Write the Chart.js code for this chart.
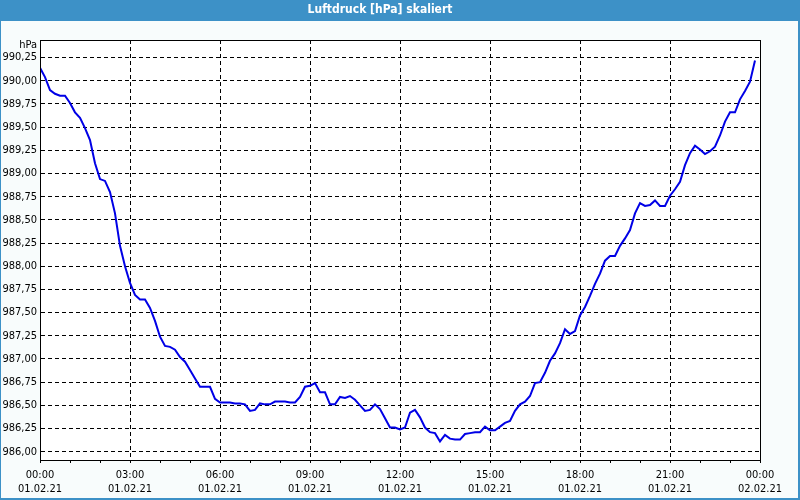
<!DOCTYPE html>
<html>
<head>
<meta charset="utf-8">
<script src="https://cdn.jsdelivr.net/npm/chart.js@4"></script>
<style>
  html, body { margin: 0; padding: 0; background: #f8fcfc; }
  #wrap { width: 800px; height: 500px; position: relative; }
</style>
</head>
<body>
<div id="wrap"><canvas id="c"></canvas></div>
<script>
// ---- data ----
const chartTitle = 'Luftdruck [hPa] skaliert';
const unitLabel = 'hPa';
const startMinutes = 0;       // 01.02.21 00:00
const intervalMinutes = 10;   // one sample every 10 minutes
const pressure = [
  990.14, 990.04, 989.90, 989.86, 989.84, 989.84, 989.76, 989.66, 989.60, 989.49,
  989.36, 989.11, 988.94, 988.92, 988.80, 988.57, 988.22, 988.00, 987.82, 987.69,
  987.64, 987.64, 987.55, 987.41, 987.24, 987.14, 987.13, 987.10, 987.02, 986.97,
  986.88, 986.79, 986.70, 986.70, 986.70, 986.57, 986.53, 986.53, 986.53, 986.52,
  986.52, 986.51, 986.44, 986.45, 986.52, 986.51, 986.51, 986.54, 986.54, 986.54,
  986.53, 986.53, 986.59, 986.70, 986.71, 986.74, 986.64, 986.64, 986.51, 986.51,
  986.59, 986.58, 986.60, 986.56, 986.50, 986.44, 986.45, 986.51, 986.46, 986.36,
  986.26, 986.26, 986.24, 986.26, 986.42, 986.45, 986.37, 986.26, 986.21, 986.20,
  986.11, 986.18, 986.14, 986.13, 986.13, 986.19, 986.20, 986.21, 986.21, 986.27,
  986.23, 986.23, 986.27, 986.31, 986.33, 986.44, 986.51, 986.54, 986.60, 986.74,
  986.75, 986.85, 986.98, 987.06, 987.17, 987.32, 987.27, 987.30, 987.47, 987.56,
  987.68, 987.81, 987.92, 988.06, 988.11, 988.11, 988.22, 988.30, 988.39, 988.57,
  988.68, 988.65, 988.66, 988.71, 988.65, 988.65, 988.76, 988.83, 988.91, 989.09,
  989.22, 989.30, 989.26, 989.21, 989.24, 989.29, 989.41, 989.56, 989.66, 989.66,
  989.80, 989.89, 989.99, 990.22
];
const xTickTimes = ['00:00', '03:00', '06:00', '09:00', '12:00', '15:00', '18:00', '21:00', '00:00'];
const xTickDates = ['01.02.21', '01.02.21', '01.02.21', '01.02.21', '01.02.21', '01.02.21', '01.02.21', '01.02.21', '02.02.21'];
const xMin = 0, xMax = 1440, xMajorStep = 180, xMinorStep = 60;
const yMin = 985.91, yMax = 990.44, yStep = 0.25;

// ---- chart ----
const FONT = "'DejaVu Sans Condensed', 'DejaVu Sans', sans-serif";
const points = pressure.map((v, i) => ({ x: startMinutes + i * intervalMinutes, y: v }));

const framePlugin = {
  id: 'frame',
  beforeDraw(chart) {
    const ctx = chart.ctx, w = chart.width, h = chart.height, a = chart.chartArea;
    ctx.save();
    ctx.fillStyle = '#f8fcfc';
    ctx.fillRect(0, 0, w, h);
    ctx.fillStyle = '#3d91c7';
    ctx.fillRect(0, 0, w, 21);
    ctx.fillRect(0, 0, 1, h);
    ctx.fillRect(w - 2, 0, 2, h);
    ctx.fillRect(0, h - 2, w, 2);
    ctx.fillStyle = '#ffffff';
    ctx.fillRect(a.left, a.top, a.right - a.left, a.bottom - a.top);
    ctx.restore();
  },
  afterDraw(chart) {
    const ctx = chart.ctx, a = chart.chartArea;
    ctx.save();
    ctx.strokeStyle = '#000';
    ctx.lineWidth = 1;
    ctx.strokeRect(Math.round(a.left) + 0.5, Math.round(a.top) + 0.5,
                   Math.round(a.right - a.left) - 1 + 1, Math.round(a.bottom - a.top));
    ctx.fillStyle = '#000';
    ctx.font = '11px ' + FONT;
    ctx.textAlign = 'right';
    ctx.textBaseline = 'middle';
    ctx.fillText(unitLabel, a.left - 3, a.top + 5);
    ctx.restore();
  }
};

new Chart(document.getElementById('c'), {
  type: 'line',
  data: {
    datasets: [{
      data: points,
      borderColor: 'rgb(0,0,230)',
      borderWidth: 2,
      pointRadius: 0,
      tension: 0,
      fill: false
    }]
  },
  options: {
    responsive: true,
    maintainAspectRatio: false,
    animation: false,
    layout: { padding: { left: 0, right: 40, top: 0, bottom: 0 } },
    plugins: {
      legend: { display: false },
      tooltip: { enabled: false },
      title: {
        display: true,
        text: chartTitle,
        color: '#ffffff',
        font: { family: FONT, size: 12, weight: 'bold' },
        padding: { top: 3, bottom: 22.6 }
      }
    },
    scales: {
      x: {
        type: 'linear',
        min: xMin,
        max: xMax,
        afterFit(scale) { scale.height = 40; },
        ticks: {
          stepSize: xMinorStep,
          autoSkip: false,
          maxRotation: 0,
          padding: 6,
          color: '#000',
          font: { family: FONT, size: 11 },
          callback(v) {
            if (v % xMajorStep !== 0) return '';
            const i = Math.round(v / xMajorStep);
            return [xTickTimes[i], xTickDates[i]];
          }
        },
        grid: {
          color: ctx => (ctx.tick && ctx.tick.value % xMajorStep === 0) ? '#000' : 'rgba(0,0,0,0)',
          tickColor: '#000',
          tickLength: 3,
          lineWidth: 1
        },
        border: { display: true, color: '#000', width: 1, dash: [4, 3] }
      },
      y: {
        type: 'linear',
        min: yMin,
        max: yMax,
        afterFit(scale) { scale.width = 40; },
        ticks: {
          stepSize: yStep,
          includeBounds: false,
          padding: 3,
          color: '#000',
          font: { family: FONT, size: 11 },
          callback(v) { return v.toFixed(2).replace('.', ','); }
        },
        grid: {
          color: '#000',
          drawTicks: false,
          lineWidth: 1
        },
        border: { display: true, color: '#000', width: 1, dash: [4, 3] }
      }
    }
  },
  plugins: [framePlugin]
});
</script>
</body>
</html>
